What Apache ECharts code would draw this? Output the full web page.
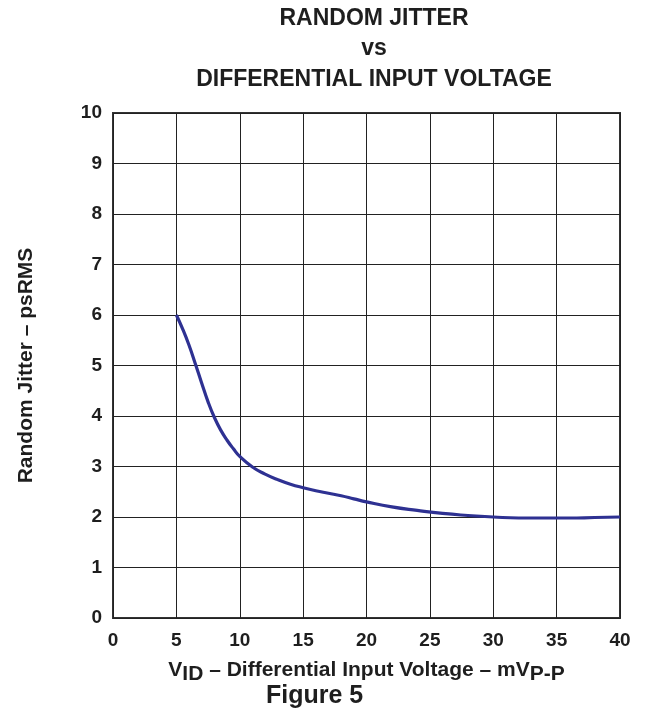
<!DOCTYPE html>
<html><head><meta charset="utf-8">
<script src="https://cdn.jsdelivr.net/npm/echarts@6/dist/echarts.min.js"></script>
<style>html,body{margin:0;padding:0;background:#fff}#c{width:647px;height:715px}</style>
</head><body><div id="c"></div>
<script>
const xTicks = [0,5,10,15,20,25,30,35,40];
const yTicks = [0,1,2,3,4,5,6,7,8,9,10];
const vid =    [5,  5.5, 6,   6.5, 7,   7.5, 8,   8.5, 9,   9.5, 10,  11,  12,  13,  14,  15,  16,  17,  18,  19,  20,  22,  24,  26,  28,  30,  32,  34,  36,  38,  40];
const jitter = [6.0,5.72,5.4, 5.03,4.65,4.28,3.97,3.72,3.52,3.35,3.2, 2.99,2.85,2.74,2.65,2.58,2.52,2.47,2.42,2.36,2.3, 2.2, 2.13,2.07,2.03,2.0, 1.98,1.98,1.98,1.99,2.0];
const F = 'Liberation Sans, Arial, sans-serif';
const C = '#1e1e1e';
const chart = echarts.init(document.getElementById('c'));
chart.setOption({
  animation:false,
  title:{text:'RANDOM JITTER\nvs\nDIFFERENTIAL INPUT VOLTAGE',left:369,top:-2,textAlign:'center',
    textStyle:{fontFamily:F,fontWeight:'bold',fontSize:23,color:C,lineHeight:30.5}},
  graphic:[{type:'text',left:266,top:684,style:{text:'Figure 5',font:'bold 25px '+F,fill:C}}],
  grid:{left:113,right:27,top:113,bottom:97,show:true,borderColor:'#333',borderWidth:2,backgroundColor:'transparent'},
  xAxis:{type:'value',min:0,max:40,interval:5,
    axisLine:{show:false},axisTick:{show:false},
    splitLine:{show:true,lineStyle:{color:'#222',width:1}},
    axisLabel:{fontFamily:F,fontWeight:'bold',fontSize:19,color:C,margin:13},
    name:'V{s|ID} – Differential Input Voltage – mV{s|P-P}',nameLocation:'middle',nameGap:37,
    nameTextStyle:{fontFamily:F,fontWeight:'bold',fontSize:21,color:C,
      rich:{s:{fontFamily:F,fontWeight:'bold',fontSize:21,color:C,verticalAlign:'bottom',padding:[9,0,0,0]}}}},
  yAxis:{type:'value',min:0,max:10,interval:1,
    axisLine:{show:false},axisTick:{show:false},
    splitLine:{show:true,lineStyle:{color:'#222',width:1}},
    axisLabel:{fontFamily:F,fontWeight:'bold',fontSize:19,color:C,margin:11},
    name:'Random Jitter – psRMS',nameLocation:'middle',nameGap:76,
    nameTextStyle:{fontFamily:F,fontWeight:'bold',fontSize:21,color:C}},
  series:[{type:'line',data:vid.map((x,i)=>[x,jitter[i]]),smooth:0.5,showSymbol:false,
    lineStyle:{color:'#2e3192',width:3.2}}]
});
</script></body></html>
